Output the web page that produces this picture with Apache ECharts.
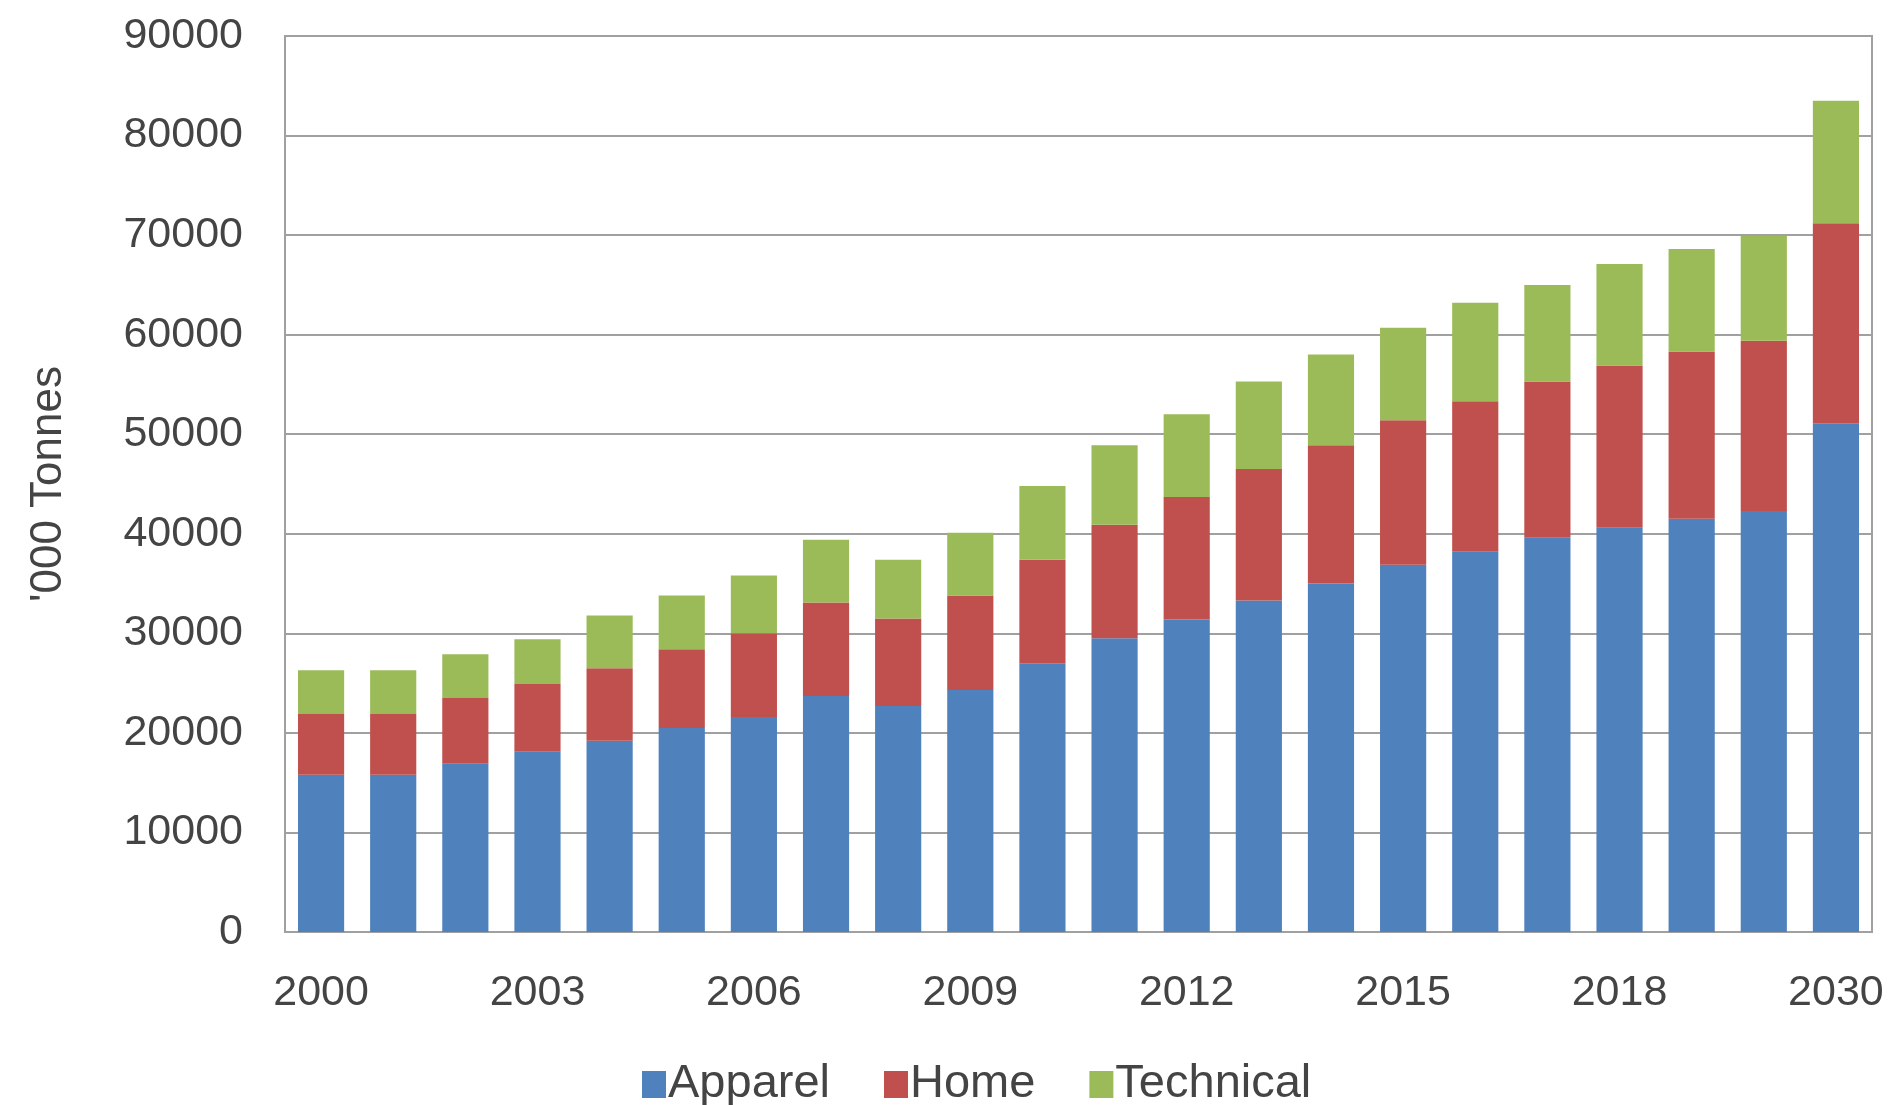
<!DOCTYPE html>
<html>
<head>
<meta charset="utf-8">
<script src="https://cdn.jsdelivr.net/npm/echarts@6/dist/echarts.min.js"></script>
<style>
  html, body { margin: 0; padding: 0; background: #fff; }
  #chart { width: 1891px; height: 1105px; }
</style>
</head>
<body>
<div id="chart"></div>
<script>
const years = ['2000', '2001', '2002', '2003', '2004', '2005', '2006', '2007', '2008', '2009', '2010',
  '2011', '2012', '2013', '2014', '2015', '2016', '2017', '2018', '2019', '2020', '2030']

const apparel   = [15800, 15800, 16900, 18100, 19200, 20500, 21600, 23700, 22700, 24300, 27000,
  29500, 31400, 33300, 35000, 36900, 38200, 39600, 40600, 41500, 42300, 51100]
const home      = [6100, 6100, 6600, 6800, 7300, 7900, 8400, 9400, 8800, 9500, 10400,
  11400, 12300, 13200, 13900, 14500, 15100, 15700, 16300, 16800, 17100, 20100]
const technical = [4400, 4400, 4400, 4500, 5300, 5400, 5800, 6300, 5900, 6300, 7400,
  8000, 8300, 8800, 9100, 9300, 9900, 9700, 10200, 10300, 10500, 12300]

const SERIES = [
  { name: 'Apparel',   data: apparel,   color: '#4F81BD' },
  { name: 'Home',      data: home,      color: '#C0504D' },
  { name: 'Technical', data: technical, color: '#9BBB59' },
]

const FONT = '"Liberation Sans", Arial, sans-serif'
const TEXT = '#444'
const LINE = '#a0a0a0'

const chart = echarts.init(document.getElementById('chart'))

chart.setOption({
  backgroundColor: '#fff',
  animation: false,
  grid: {
    left: 285, right: 19, top: 36, bottom: 173,
    show: true, borderColor: LINE, borderWidth: 2,
  },
  legend: {
    bottom: -8,
    left: 637,
    itemWidth: 24,
    itemHeight: 27,
    itemGap: 54,
    icon: 'rect',
    textStyle: { fontFamily: FONT, fontSize: 47, color: TEXT, padding: [0, 0, 0, -3] },
    data: SERIES.map(s => s.name),
  },
  xAxis: {
    type: 'category',
    data: years,
    axisTick: { show: false },
    axisLine: { lineStyle: { color: LINE, width: 2 } },
    axisLabel: {
      interval: 2,
      margin: 40,
      fontFamily: FONT, fontSize: 43, color: TEXT,
    },
  },
  yAxis: {
    type: 'value',
    min: 0,
    max: 90000,
    interval: 10000,
    name: "'000 Tonnes",
    nameLocation: 'middle',
    nameGap: 214,
    nameTextStyle: { fontFamily: FONT, fontSize: 44, color: TEXT },
    axisLine: { show: true, lineStyle: { color: LINE, width: 2 } },
    axisTick: { show: false },
    splitLine: { lineStyle: { color: LINE, width: 2 } },
    axisLabel: {
      margin: 42, fontFamily: FONT, fontSize: 43, color: TEXT,
      formatter: v => String(v),
    },
  },
  series: SERIES.map(s => ({
    name: s.name,
    type: 'bar',
    stack: 'total',
    data: s.data,
    barCategoryGap: '36%',
    itemStyle: { color: s.color },
  })),
})
</script>
</body>
</html>
